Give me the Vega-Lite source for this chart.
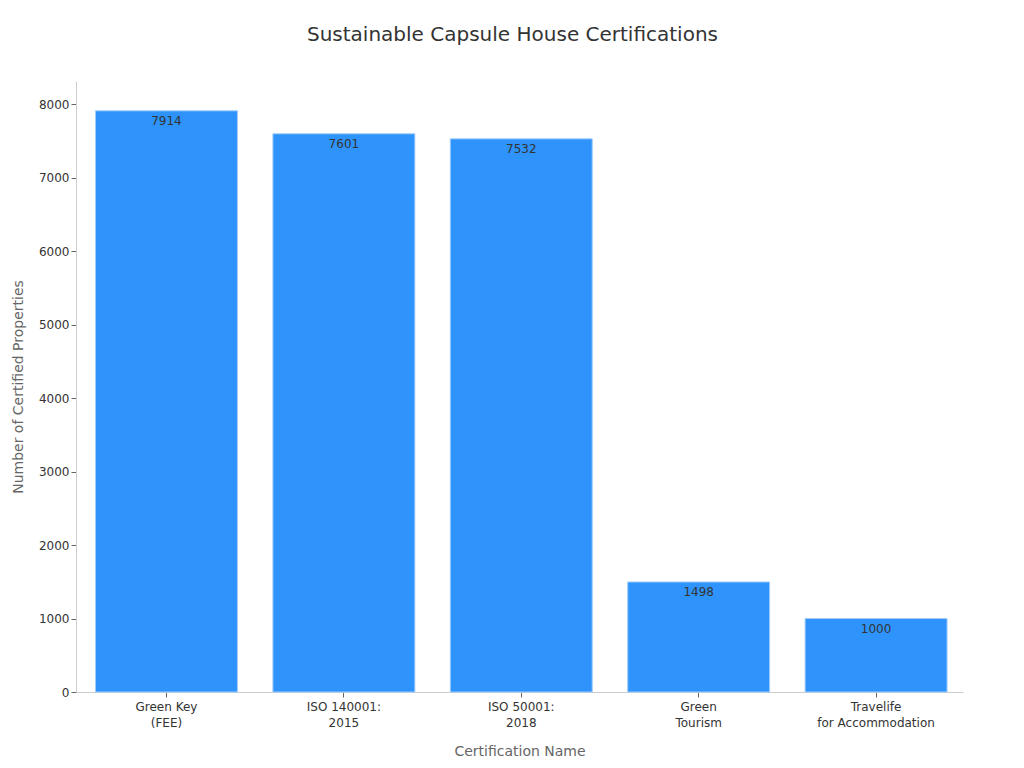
{
  "$schema": "https://vega.github.io/schema/vega-lite/v6.json",
  "width": 887,
  "height": 611,
  "autosize": {"type": "none"},
  "padding": {"left": 76, "top": 81, "right": 61, "bottom": 76},
  "background": "white",
  "title": {
    "text": "Sustainable Capsule House Certifications",
    "fontSize": 20,
    "fontWeight": "normal",
    "font": "DejaVu Sans",
    "color": "#333333",
    "dx": -7,
    "offset": 36
  },
  "data": {
    "values": [
      {"name": "Green Key|(FEE)", "count": 7914},
      {"name": "ISO 140001:|2015", "count": 7601},
      {"name": "ISO 50001:|2018", "count": 7532},
      {"name": "Green|Tourism", "count": 1498},
      {"name": "Travelife|for Accommodation", "count": 1000}
    ]
  },
  "config": {
    "view": {"stroke": null},
    "font": "DejaVu Sans",
    "axis": {
      "grid": false,
      "domainColor": "#cccccc",
      "tickColor": "#666666",
      "labelColor": "#333333",
      "labelFontSize": 12,
      "titleColor": "#666666",
      "titleFontSize": 14,
      "titleFontWeight": "normal"
    }
  },
  "encoding": {
    "x": {
      "field": "name",
      "type": "nominal",
      "sort": null,
      "title": "Certification Name",
      "scale": {"paddingInner": 0.2, "paddingOuter": 0.1, "align": 0.55},
      "axis": {"labelAngle": 0, "labelExpr": "split(datum.value, '|')", "labelLineHeight": 16, "titlePadding": 16, "labelPadding": 4}
    },
    "y": {
      "field": "count",
      "type": "quantitative",
      "title": "Number of Certified Properties",
      "scale": {"domain": [0, 8320], "nice": false},
      "axis": {"values": [0, 1000, 2000, 3000, 4000, 5000, 6000, 7000, 8000], "format": "d", "titlePadding": 13}
    }
  },
  "layer": [
    {
      "mark": {"type": "bar", "color": "#2e93fa", "stroke": "#9fcbfa", "strokeWidth": 1}
    },
    {
      "mark": {"type": "text", "baseline": "top", "dy": 5, "fontSize": 12, "color": "#333333"},
      "encoding": {"text": {"field": "count", "type": "quantitative"}}
    }
  ]
}
